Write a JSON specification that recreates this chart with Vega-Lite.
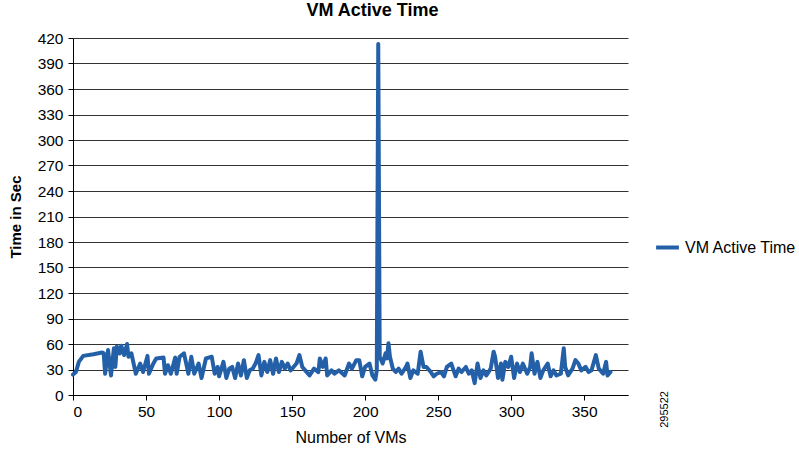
{
  "$schema": "https://vega.github.io/schema/vega-lite/v6.json",
  "autosize": {"type": "none"},
  "padding": {"left": 73, "top": 38, "right": 171, "bottom": 57},
  "width": 555,
  "height": 357,
  "background": "white",
  "config": {
    "font": "Liberation Sans",
    "view": {"stroke": null},
    "axis": {
      "labelFont": "Liberation Sans",
      "titleFont": "Liberation Sans",
      "labelFontSize": 15.5,
      "titleFontSize": 15,
      "labelColor": "#000",
      "titleColor": "#000",
      "domainColor": "#000",
      "tickColor": "#000",
      "tickSize": 5,
      "labelOverlap": false
    }
  },
  "title": {
    "text": "VM Active Time",
    "font": "Liberation Sans",
    "fontSize": 18,
    "fontWeight": "bold",
    "color": "#000",
    "anchor": "middle",
    "dx": 22,
    "offset": 11
  },
  "datasets": {
    "active": [
      {"vm": 0, "sec": 24}, {"vm": 2, "sec": 27}, {"vm": 4, "sec": 39}, {"vm": 7, "sec": 46},
      {"vm": 14, "sec": 48}, {"vm": 20, "sec": 50}, {"vm": 21, "sec": 49}, {"vm": 22, "sec": 25},
      {"vm": 24, "sec": 53}, {"vm": 26, "sec": 23}, {"vm": 28, "sec": 55}, {"vm": 29, "sec": 33},
      {"vm": 30, "sec": 57}, {"vm": 32, "sec": 49}, {"vm": 33, "sec": 58}, {"vm": 35, "sec": 47},
      {"vm": 37, "sec": 60}, {"vm": 38, "sec": 45}, {"vm": 40, "sec": 49}, {"vm": 43, "sec": 25},
      {"vm": 46, "sec": 37}, {"vm": 48, "sec": 27}, {"vm": 51, "sec": 46}, {"vm": 52, "sec": 25},
      {"vm": 55, "sec": 37}, {"vm": 57, "sec": 43}, {"vm": 62, "sec": 44}, {"vm": 63, "sec": 25},
      {"vm": 65, "sec": 35}, {"vm": 67, "sec": 25}, {"vm": 70, "sec": 44}, {"vm": 71, "sec": 25},
      {"vm": 73, "sec": 45}, {"vm": 76, "sec": 49}, {"vm": 78, "sec": 33}, {"vm": 79, "sec": 25},
      {"vm": 81, "sec": 45}, {"vm": 83, "sec": 25}, {"vm": 86, "sec": 37}, {"vm": 88, "sec": 20},
      {"vm": 91, "sec": 43}, {"vm": 95, "sec": 45}, {"vm": 97, "sec": 25}, {"vm": 99, "sec": 33},
      {"vm": 100, "sec": 22}, {"vm": 103, "sec": 39}, {"vm": 105, "sec": 20}, {"vm": 107, "sec": 31},
      {"vm": 109, "sec": 33}, {"vm": 111, "sec": 20}, {"vm": 113, "sec": 37}, {"vm": 115, "sec": 23},
      {"vm": 117, "sec": 41}, {"vm": 119, "sec": 20}, {"vm": 121, "sec": 29}, {"vm": 123, "sec": 31},
      {"vm": 125, "sec": 37}, {"vm": 127, "sec": 47}, {"vm": 129, "sec": 23}, {"vm": 131, "sec": 39},
      {"vm": 133, "sec": 27}, {"vm": 135, "sec": 41}, {"vm": 137, "sec": 25}, {"vm": 139, "sec": 43},
      {"vm": 141, "sec": 27}, {"vm": 143, "sec": 39}, {"vm": 145, "sec": 31}, {"vm": 147, "sec": 37},
      {"vm": 149, "sec": 29}, {"vm": 151, "sec": 33}, {"vm": 153, "sec": 37}, {"vm": 155, "sec": 47},
      {"vm": 157, "sec": 33}, {"vm": 159, "sec": 29}, {"vm": 162, "sec": 23}, {"vm": 165, "sec": 31},
      {"vm": 168, "sec": 27}, {"vm": 169, "sec": 43}, {"vm": 171, "sec": 33}, {"vm": 173, "sec": 43},
      {"vm": 174, "sec": 23}, {"vm": 177, "sec": 29}, {"vm": 179, "sec": 25}, {"vm": 182, "sec": 29},
      {"vm": 186, "sec": 23}, {"vm": 189, "sec": 37}, {"vm": 191, "sec": 31}, {"vm": 194, "sec": 41},
      {"vm": 196, "sec": 41}, {"vm": 198, "sec": 22}, {"vm": 200, "sec": 33}, {"vm": 203, "sec": 37},
      {"vm": 205, "sec": 23}, {"vm": 207, "sec": 18}, {"vm": 208, "sec": 29}, {"vm": 209, "sec": 413},
      {"vm": 210, "sec": 45}, {"vm": 212, "sec": 37}, {"vm": 214, "sec": 49}, {"vm": 215, "sec": 43},
      {"vm": 216, "sec": 61}, {"vm": 217, "sec": 45}, {"vm": 219, "sec": 31}, {"vm": 221, "sec": 27},
      {"vm": 223, "sec": 31}, {"vm": 225, "sec": 25}, {"vm": 228, "sec": 33}, {"vm": 229, "sec": 37},
      {"vm": 231, "sec": 20}, {"vm": 233, "sec": 29}, {"vm": 236, "sec": 25}, {"vm": 238, "sec": 51},
      {"vm": 240, "sec": 33}, {"vm": 242, "sec": 33}, {"vm": 245, "sec": 27}, {"vm": 247, "sec": 22},
      {"vm": 249, "sec": 25}, {"vm": 252, "sec": 27}, {"vm": 254, "sec": 22}, {"vm": 256, "sec": 33},
      {"vm": 259, "sec": 37}, {"vm": 262, "sec": 22}, {"vm": 264, "sec": 31}, {"vm": 266, "sec": 27},
      {"vm": 269, "sec": 33}, {"vm": 271, "sec": 25}, {"vm": 273, "sec": 29}, {"vm": 275, "sec": 14},
      {"vm": 277, "sec": 37}, {"vm": 279, "sec": 20}, {"vm": 281, "sec": 29}, {"vm": 283, "sec": 23},
      {"vm": 286, "sec": 31}, {"vm": 288, "sec": 51}, {"vm": 289, "sec": 45}, {"vm": 291, "sec": 20},
      {"vm": 293, "sec": 37}, {"vm": 294, "sec": 18}, {"vm": 296, "sec": 39}, {"vm": 298, "sec": 33},
      {"vm": 300, "sec": 45}, {"vm": 302, "sec": 20}, {"vm": 304, "sec": 37}, {"vm": 306, "sec": 27},
      {"vm": 308, "sec": 37}, {"vm": 311, "sec": 25}, {"vm": 313, "sec": 33}, {"vm": 314, "sec": 49},
      {"vm": 316, "sec": 25}, {"vm": 318, "sec": 39}, {"vm": 320, "sec": 20}, {"vm": 322, "sec": 29},
      {"vm": 325, "sec": 37}, {"vm": 327, "sec": 22}, {"vm": 329, "sec": 29}, {"vm": 331, "sec": 23},
      {"vm": 334, "sec": 25}, {"vm": 336, "sec": 55}, {"vm": 337, "sec": 33}, {"vm": 339, "sec": 23},
      {"vm": 342, "sec": 31}, {"vm": 344, "sec": 41}, {"vm": 346, "sec": 37}, {"vm": 348, "sec": 29},
      {"vm": 351, "sec": 33}, {"vm": 353, "sec": 27}, {"vm": 355, "sec": 29}, {"vm": 358, "sec": 47},
      {"vm": 360, "sec": 31}, {"vm": 363, "sec": 25}, {"vm": 365, "sec": 39}, {"vm": 366, "sec": 23},
      {"vm": 368, "sec": 27}
    ],
    "figid": [{"vm": 405, "sec": -17, "label": "295522"}]
  },
  "encoding": {
    "x": {
      "field": "vm", "type": "quantitative",
      "scale": {"domain": [0, 380], "nice": false},
      "axis": {"values": [0, 50, 100, 150, 200, 250, 300, 350], "grid": false, "title": "Number of VMs", "titleFontWeight": "normal", "titleFontSize": 16, "labelPadding": 4, "titlePadding": 10}
    },
    "y": {
      "field": "sec", "type": "quantitative",
      "scale": {"domain": [0, 420], "nice": false},
      "axis": {"values": [0, 30, 60, 90, 120, 150, 180, 210, 240, 270, 300, 330, 360, 390, 420], "grid": true, "gridColor": "#333", "gridWidth": 1, "title": "Time in Sec", "titleFontWeight": "bold", "labelPadding": 5, "titlePadding": 14}
    }
  },
  "layer": [
    {
      "data": {"name": "active"},
      "transform": [{"calculate": "'VM Active Time'", "as": "series"}],
      "mark": {"type": "line", "strokeWidth": 4, "strokeJoin": "round", "strokeCap": "round"},
      "encoding": {
        "color": {
          "field": "series", "type": "nominal",
          "scale": {"range": ["#2460a7"]},
          "legend": {
            "title": null, "orient": "none", "legendX": 581, "legendY": 196,
            "symbolType": "stroke", "symbolStrokeWidth": 4, "symbolSize": 520,
            "labelFont": "Liberation Sans", "labelFontSize": 16, "labelColor": "#000", "labelOffset": 4
          }
        }
      }
    },
    {
      "data": {"name": "figid"},
      "mark": {"type": "text", "angle": 270, "fontSize": 11, "font": "Liberation Sans", "color": "#000", "align": "center", "baseline": "middle"},
      "encoding": {
        "text": {"field": "label"}
      }
    }
  ]
}
